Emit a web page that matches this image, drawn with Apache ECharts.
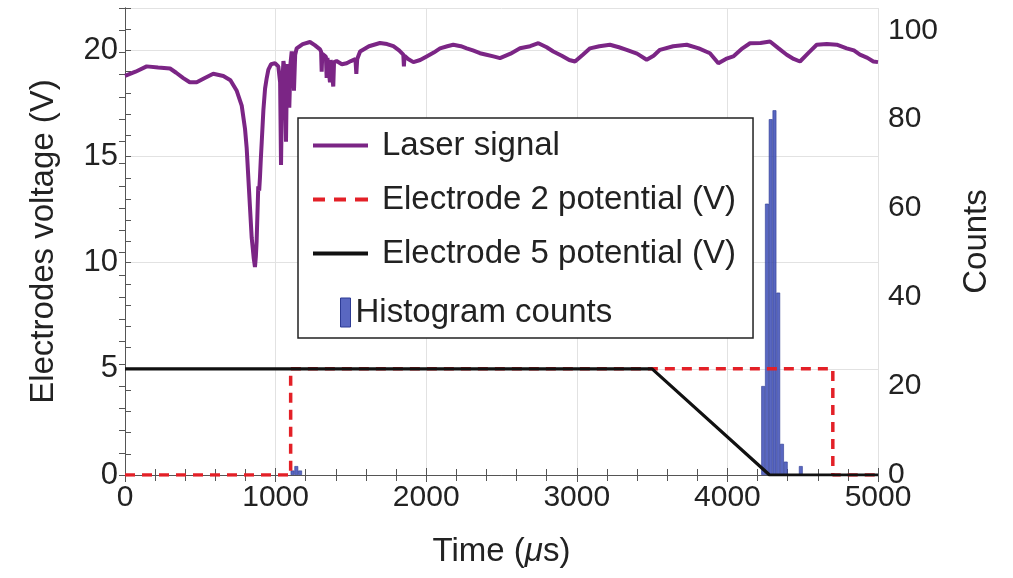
<!DOCTYPE html>
<html>
<head>
<meta charset="utf-8">
<script src="https://cdn.jsdelivr.net/npm/echarts@6/dist/echarts.min.js"></script>
<style>
  html, body { margin: 0; padding: 0; background: #fff; }
  #chart { width: 1013px; height: 578px; }
</style>
</head>
<body>
<div id="chart"></div>
<script>
// laser signal, time (us) and voltage (V)
var laserT = [0, 70, 144, 220, 299, 340, 387, 430, 476, 530, 586, 653, 700, 742, 775, 797, 808, 819, 830, 841,
  848, 855, 863, 869, 874, 879, 885, 891, 896, 902, 908, 919, 930, 941, 952, 970, 996, 1018, 1030, 1036,
  1043, 1052, 1062, 1069, 1075, 1080, 1086, 1091, 1099, 1107, 1115, 1122, 1130, 1140, 1180, 1228, 1260, 1295, 1302, 1306,
  1310, 1334, 1339, 1344, 1356, 1361, 1366, 1378, 1383, 1388, 1405, 1440, 1472, 1500, 1530, 1536, 1542, 1561, 1620, 1693,
  1740, 1782, 1820, 1848, 1852, 1856, 1880, 1915, 1960, 2003, 2050, 2092, 2140, 2180, 2230, 2269, 2310, 2357, 2400, 2446,
  2490, 2560, 2623, 2690, 2745, 2800, 2844, 2900, 2950, 2988, 3040, 3088, 3150, 3220, 3280, 3331, 3400, 3464, 3510, 3552,
  3640, 3730, 3810, 3884, 3940, 3990, 4039, 4100, 4150, 4220, 4283, 4340, 4394, 4440, 4482, 4540, 4593, 4660, 4726, 4792,
  4840, 4880, 4930, 4969, 5000];
var laserV = [18.8, 19.0, 19.25, 19.2, 19.15, 18.95, 18.7, 18.5, 18.5, 18.7, 18.9, 18.8, 18.6, 18.1, 17.4, 16.3, 15.4, 14.0, 12.6, 11.2,
  10.7, 10.2, 9.8, 10.3, 11.0, 12.2, 13.6, 13.4, 14.0, 14.9, 15.7, 17.2, 18.2, 18.7, 19.1, 19.35, 19.4, 19.25, 18.5, 14.6,
  18.3, 19.5, 19.0, 15.7, 18.8, 19.35, 18.9, 17.3, 19.4, 19.95, 19.6, 18.1, 19.8, 20.1, 20.3, 20.4, 20.25, 20.05, 19.95, 19.0,
  19.85, 19.7, 18.7, 19.65, 19.6, 18.5, 19.55, 19.5, 18.3, 19.45, 19.5, 19.35, 19.4, 19.5, 19.6, 18.9, 19.6, 19.95, 20.2, 20.35,
  20.3, 20.2, 20.0, 19.8, 19.25, 19.75, 19.6, 19.45, 19.55, 19.72, 19.9, 20.1, 20.2, 20.27, 20.2, 20.1, 20.0, 19.87, 19.8, 19.72,
  19.64, 19.85, 20.1, 20.2, 20.34, 20.15, 19.95, 19.75, 19.55, 19.48, 19.8, 20.1, 20.2, 20.27, 20.15, 20.03, 19.85, 19.56, 19.75, 20.03,
  20.2, 20.27, 20.1, 19.87, 19.4, 19.6, 19.72, 20.1, 20.34, 20.35, 20.42, 20.1, 19.8, 19.6, 19.48, 19.9, 20.27, 20.3, 20.27, 20.1,
  20.0, 19.8, 19.65, 19.48, 19.45];

// electrode potentials (corner points)
var elec2T = [0, 1100, 1100, 4700, 4700, 5000];
var elec2V = [0, 0, 5, 5, 0, 0];
var elec5T = [0, 3500, 4280, 5000];
var elec5V = [5, 5, 0, 0];

// histogram bin centres (us) and counts
var histT = [1112.5, 1137.5, 1162.5, 4237.5, 4262.5, 4287.5, 4312.5, 4337.5, 4362.5, 4387.5, 4487.5];
var histN = [1, 2, 1, 20, 61, 80, 82, 41, 7, 3, 2];

var xTicks = [0, 1000, 2000, 3000, 4000, 5000];
var leftTicks = [0, 5, 10, 15, 20];
var rightTicks = [0, 20, 40, 60, 80, 100];

function zip(a, b) {
  return a.map(function (v, i) { return [v, b[i]]; });
}

var font = "'Liberation Sans', Arial, sans-serif";
var axisCol = '#555';
var textCol = '#222';

// legend glyphs: plain line, dashed line
var solidIcon = 'path://M0,0h55v4h-55z';
var dashIcon = 'path://M0,0h12v4h-12z M21,0h12v4h-12z M42,0h13v4h-13z';

var chart = echarts.init(document.getElementById('chart'));
var option = {
  animation: false,
  backgroundColor: '#fff',
  textStyle: { fontFamily: font },
  grid: { left: 125, right: 135, top: 8, bottom: 103 },
  legend: [
    {
      data: [
        { name: 'Laser signal', icon: solidIcon },
        { name: 'Electrode 2 potential (V)', icon: dashIcon },
        { name: 'Electrode 5 potential (V)', icon: solidIcon }
      ],
      orient: 'vertical',
      left: 298,
      top: 118,
      itemWidth: 55,
      itemHeight: 28,
      itemGap: 21,
      padding: [11, 17, 68, 15],
      backgroundColor: '#fff',
      borderColor: '#222',
      borderWidth: 1.5,
      textStyle: { fontSize: 33, color: textCol, fontFamily: font, padding: [0, 0, 0, 9] }
    },
    {
      data: [{ name: 'Histogram counts', icon: 'rect' }],
      left: 340,
      top: 296,
      itemWidth: 10,
      itemHeight: 29,
      padding: 0,
      itemStyle: { borderColor: '#2d3b94', borderWidth: 1 },
      textStyle: { fontSize: 33, color: textCol, fontFamily: font }
    }
  ],
  xAxis: [
    {
      type: 'value',
      min: 0,
      max: 5000,
      interval: 1000,
      name: 'Time ({i|\u03bc}s)',
      nameLocation: 'middle',
      nameGap: 60,
      nameTextStyle: {
        fontSize: 33, color: textCol, fontFamily: font,
        rich: { i: { fontSize: 33, fontStyle: 'italic', color: textCol, fontFamily: font } }
      },
      axisLine: { lineStyle: { color: axisCol, width: 1 } },
      axisTick: { inside: true, length: 7, lineStyle: { color: axisCol } },
      minorTick: { show: true, splitNumber: 5, length: 6, lineStyle: { color: axisCol } },
      axisLabel: {
        fontSize: 30, color: textCol, margin: 8,
        formatter: function (v) { return xTicks.indexOf(v) >= 0 ? String(v) : ''; }
      },
      splitLine: { show: true, lineStyle: { color: '#e2e2e2', width: 1 } }
    },
    {
      type: 'value',
      position: 'top',
      min: 0,
      max: 5000,
      interval: 1000,
      axisLine: { lineStyle: { color: axisCol, width: 1 } },
      axisTick: { inside: true, length: 7, lineStyle: { color: axisCol } },
      minorTick: { show: true, splitNumber: 5, length: 6, lineStyle: { color: axisCol } },
      axisLabel: { show: false },
      splitLine: { show: false }
    }
  ],
  yAxis: [
    {
      type: 'value',
      position: 'left',
      min: 0,
      max: 22,
      interval: 1,
      name: 'Electrodes voltage (V)',
      nameLocation: 'middle',
      nameGap: 65,
      nameRotate: 90,
      nameTextStyle: { fontSize: 33, color: textCol, fontFamily: font },
      axisLine: { lineStyle: { color: axisCol, width: 1 } },
      axisTick: { inside: true, length: 6, lineStyle: { color: axisCol } },
      axisLabel: {
        fontSize: 31, color: textCol, margin: 7,
        formatter: function (v) { return leftTicks.indexOf(v) >= 0 ? String(v) : ''; }
      },
      splitLine: { show: false }
    },
    {
      type: 'value',
      position: 'right',
      min: 0,
      max: 105,
      interval: 5,
      name: 'Counts',
      nameLocation: 'middle',
      nameGap: 82,
      nameRotate: 90,
      nameTextStyle: { fontSize: 33, color: textCol, fontFamily: font },
      axisLine: { lineStyle: { color: axisCol, width: 1 } },
      axisTick: { inside: true, length: 6, lineStyle: { color: axisCol } },
      axisLabel: {
        fontSize: 30, color: textCol, margin: 10,
        formatter: function (v) { return rightTicks.indexOf(v) >= 0 ? String(v) : ''; }
      },
      splitLine: { show: false }
    },
    {
      // only for the horizontal grid lines every 5 V
      type: 'value',
      position: 'left',
      min: 0,
      max: 22,
      interval: 5,
      axisLine: { show: false },
      axisTick: { show: false },
      axisLabel: { show: false },
      splitLine: { show: true, lineStyle: { color: '#e2e2e2', width: 1 } }
    }
  ],
  series: [
    {
      name: 'Laser signal',
      type: 'line',
      xAxisIndex: 0,
      yAxisIndex: 0,
      data: zip(laserT, laserV),
      symbol: 'none',
      color: '#7b2585',
      lineStyle: { color: '#7b2585', width: 4 }
    },
    {
      name: 'Electrode 2 potential (V)',
      type: 'line',
      xAxisIndex: 0,
      yAxisIndex: 0,
      data: zip(elec2T, elec2V),
      symbol: 'none',
      color: '#e32027',
      lineStyle: { color: '#e32027', width: 3.5, type: [10, 7] }
    },
    {
      name: 'Electrode 5 potential (V)',
      type: 'line',
      xAxisIndex: 0,
      yAxisIndex: 0,
      data: zip(elec5T, elec5V),
      symbol: 'none',
      color: '#111',
      lineStyle: { color: '#111', width: 3.2 }
    },
    {
      name: 'Histogram counts',
      type: 'bar',
      xAxisIndex: 0,
      yAxisIndex: 1,
      data: zip(histT, histN),
      barWidth: 3.8,
      color: '#4656b8',
      itemStyle: { color: 'rgba(66,82,184,0.88)', borderColor: '#2d3b94', borderWidth: 0.6 }
    }
  ]
};
chart.setOption(option);
</script>
</body>
</html>
